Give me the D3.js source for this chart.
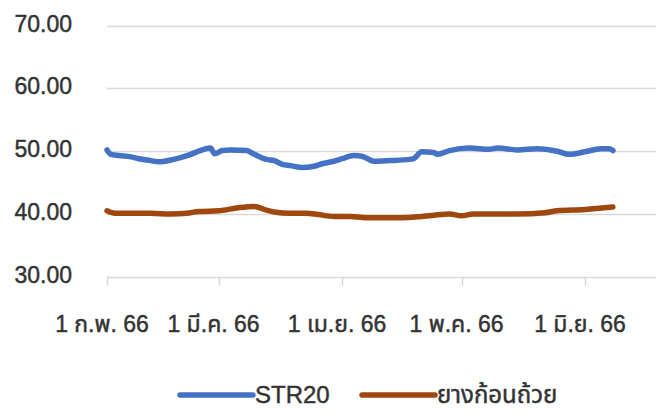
<!DOCTYPE html>
<html>
<head>
<meta charset="utf-8">
<script src="https://cdn.jsdelivr.net/npm/d3@7"></script>
<style>
  html, body { margin: 0; padding: 0; background: #fff; }
  svg { display: block; }
  text { font-family: Tahoma, "Liberation Sans", "Noto Sans", "Noto Sans Thai", sans-serif; fill: #333333;
         stroke: #333333; stroke-width: 0.45px; paint-order: stroke; }
</style>
</head>
<body>
<svg id="chart" width="656" height="416"></svg>
<script>
// ---- data ----
const seriesNames = ["STR20", "ยางก้อนถ้วย"];
const seriesColors = ["#4472C4", "#9E480E"];
const tickDates = ["2023-02-01", "2023-03-01", "2023-04-01", "2023-05-01", "2023-06-01"];
const tickLabels = ["1 ก.พ. 66", "1 มี.ค. 66", "1 เม.ย. 66", "1 พ.ค. 66", "1 มิ.ย. 66"];
const yTicks = [30, 40, 50, 60, 70];

const str20Dates = ["2023-02-01","2023-02-02","2023-02-04","2023-02-07","2023-02-09","2023-02-12","2023-02-14","2023-02-17","2023-02-19","2023-02-22","2023-02-24","2023-02-27","2023-02-28","2023-03-02","2023-03-04","2023-03-08","2023-03-10","2023-03-13","2023-03-15","2023-03-17","2023-03-19","2023-03-22","2023-03-25","2023-03-27","2023-03-30","2023-04-01","2023-04-04","2023-04-06","2023-04-09","2023-04-13","2023-04-18","2023-04-19","2023-04-21","2023-04-24","2023-04-25","2023-04-28","2023-05-03","2023-05-08","2023-05-10","2023-05-15","2023-05-20","2023-05-25","2023-05-28","2023-06-01","2023-06-05","2023-06-07","2023-06-08"];
const str20Values = [50.2,49.5,49.3,49.1,48.8,48.5,48.3,48.6,48.9,49.5,50.0,50.5,49.6,50.1,50.2,50.1,49.5,48.7,48.5,47.9,47.7,47.4,47.6,48.0,48.4,48.8,49.3,49.2,48.4,48.5,48.7,48.8,49.9,49.8,49.5,50.1,50.5,50.3,50.5,50.2,50.4,50.0,49.5,49.9,50.4,50.4,50.1];

const cupDates = ["2023-02-01","2023-02-03","2023-02-07","2023-02-12","2023-02-17","2023-02-21","2023-02-24","2023-03-01","2023-03-06","2023-03-10","2023-03-13","2023-03-15","2023-03-19","2023-03-23","2023-03-26","2023-03-30","2023-04-03","2023-04-07","2023-04-16","2023-04-21","2023-04-26","2023-04-28","2023-05-01","2023-05-04","2023-05-15","2023-05-22","2023-05-25","2023-06-01","2023-06-08"];
const cupValues = [40.5,40.1,40.1,40.1,40.0,40.1,40.4,40.5,41.0,41.2,40.6,40.3,40.1,40.1,39.9,39.6,39.6,39.4,39.4,39.6,39.9,40.0,39.7,40.0,40.0,40.2,40.5,40.7,41.1];

// ---- layout ----
const svg = d3.select("#chart");
const plotLeft = 107, plotRight = 656.7, plotTop = 25.7, plotBottom = 276.7;
const parse = d3.utcParse("%Y-%m-%d");

const x = d3.scaleUtc()
  .domain([parse("2023-02-01"), parse("2023-06-19")])
  .range([plotLeft, plotRight]);
const y = d3.scaleLinear().domain([30, 70]).range([plotBottom, plotTop]);

// gridlines
svg.append("g").selectAll("line").data(yTicks).join("line")
  .attr("x1", plotLeft).attr("x2", 656)
  .attr("y1", d => Math.round(y(d)) + 0.5).attr("y2", d => Math.round(y(d)) + 0.5)
  .attr("stroke", "#D9D9D9").attr("stroke-width", 1.5);

// y labels
svg.append("g").selectAll("text").data(yTicks).join("text")
  .attr("x", 72).attr("y", d => y(d) + 6)
  .attr("text-anchor", "end")
  .style("font-size", "23px")
  .text(d => d3.format(".2f")(d));

// x axis ticks
const tickD = tickDates.map(parse);
svg.append("g").selectAll("line").data(tickD).join("line")
  .attr("x1", d => Math.round(x(d)) + 0.5).attr("x2", d => Math.round(x(d)) + 0.5)
  .attr("y1", plotBottom).attr("y2", plotBottom + 9)
  .attr("stroke", "#D9D9D9").attr("stroke-width", 1.5);

svg.append("g").selectAll("text").data(tickD).join("text")
  .attr("x", d => x(d) - 5).attr("y", 332)
  .attr("text-anchor", "middle")
  .style("font-size", "23px")
  .text((d, i) => tickLabels[i]);

// lines
const line = d3.line().x(d => x(d.date)).y(d => y(d.value)).curve(d3.curveMonotoneX);
const allSeries = [
  str20Dates.map((d, i) => ({ date: parse(d), value: str20Values[i] })),
  cupDates.map((d, i) => ({ date: parse(d), value: cupValues[i] }))
];
svg.append("g").selectAll("path").data(allSeries).join("path")
  .attr("d", line)
  .attr("fill", "none")
  .attr("stroke", (d, i) => seriesColors[i])
  .attr("stroke-width", 5.5)
  .attr("stroke-linecap", "round")
  .attr("stroke-linejoin", "round");

// legend
const legendX = [180, 362];
const lg = svg.append("g").selectAll("g").data(seriesNames).join("g")
  .attr("transform", (d, i) => `translate(${legendX[i]},395)`);
lg.append("line").attr("x1", 0).attr("x2", 73).attr("y1", 0).attr("y2", 0)
  .attr("stroke", (d, i) => seriesColors[i]).attr("stroke-width", 5.5).attr("stroke-linecap", "round");
lg.append("text").attr("x", 75).attr("y", 8)
  .style("font-size", "24px").text(d => d);
</script>
</body>
</html>
